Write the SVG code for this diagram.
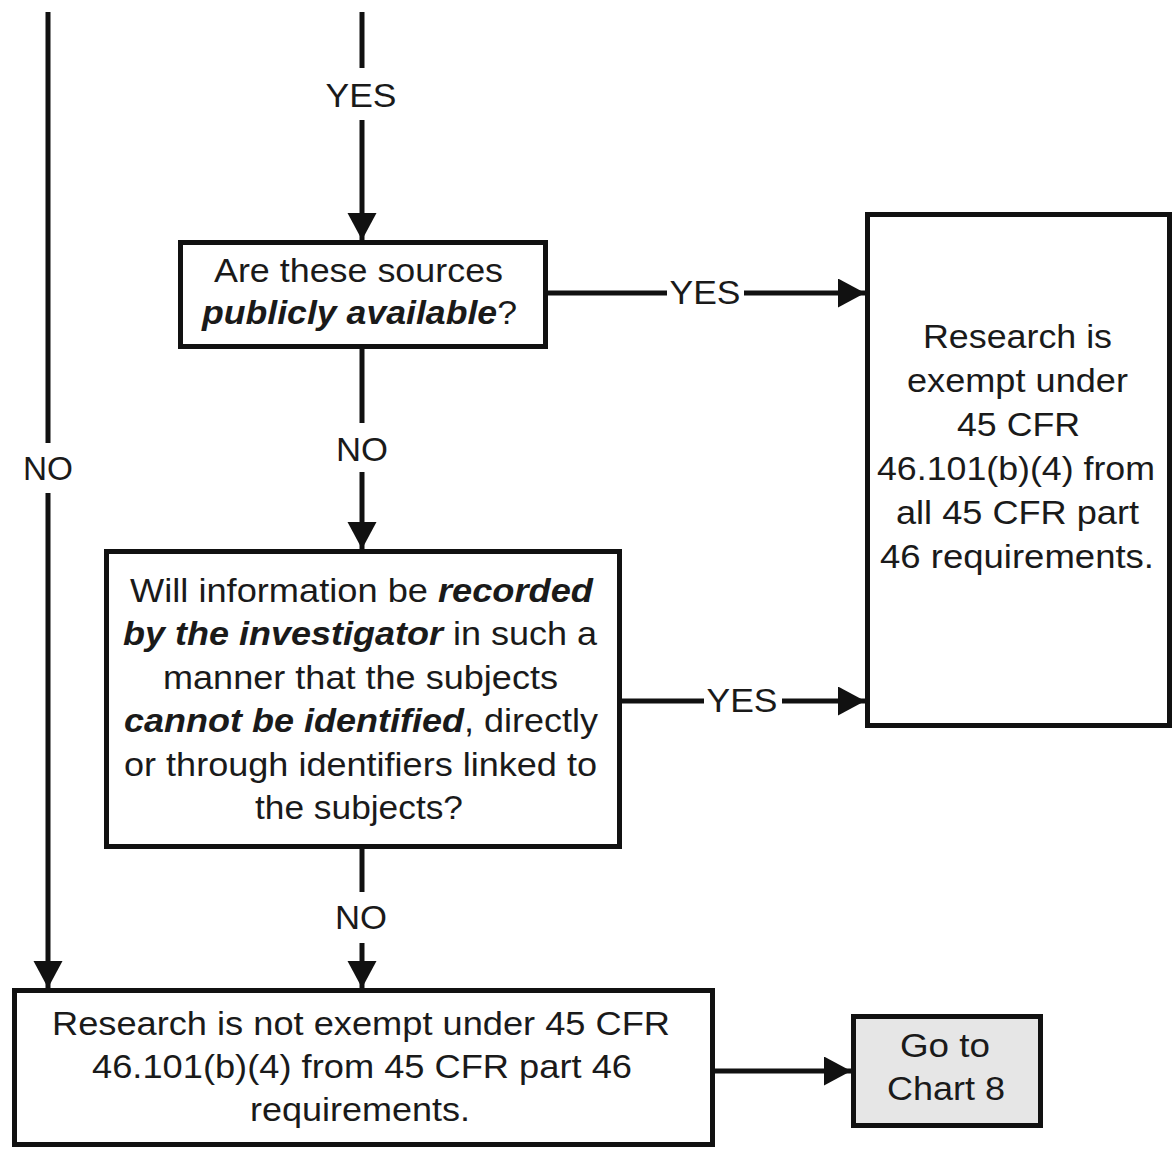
<svg xmlns="http://www.w3.org/2000/svg" width="1176" height="1150" viewBox="0 0 1176 1150">
<style>
.box{fill:#fff;stroke:#111;stroke-width:5}
.grey{fill:#e6e6e6}
.ln{fill:none;stroke:#111;stroke-width:5}
.t{font-family:"Liberation Sans",Arial,sans-serif;font-size:33px;fill:#1a1a1a}
.lb{font-family:"Liberation Sans",Arial,sans-serif;font-size:34px;fill:#1a1a1a;text-anchor:middle}
.bi{font-weight:bold;font-style:italic}
</style>
<defs>
<marker id="ah" markerUnits="userSpaceOnUse" markerWidth="28" markerHeight="30" refX="27" refY="14.5" orient="auto">
<path d="M0,0 L27,14.5 L0,29 z" fill="#111"/>
</marker>
</defs>
<rect width="1176" height="1150" fill="#fff"/>
<g id="connectors">
<line class="ln" x1="48" y1="12" x2="48" y2="443"/>
<line class="ln" x1="48" y1="493" x2="48" y2="988" marker-end="url(#ah)"/>
<text class="lb" x="48" y="480" textLength="50" lengthAdjust="spacingAndGlyphs">NO</text>
<line class="ln" x1="362" y1="12" x2="362" y2="68"/>
<line class="ln" x1="362" y1="120" x2="362" y2="240" marker-end="url(#ah)"/>
<text class="lb" x="361" y="107" textLength="71" lengthAdjust="spacingAndGlyphs">YES</text>
<line class="ln" x1="362" y1="348" x2="362" y2="423"/>
<line class="ln" x1="362" y1="472" x2="362" y2="549" marker-end="url(#ah)"/>
<text class="lb" x="362" y="461" textLength="52" lengthAdjust="spacingAndGlyphs">NO</text>
<line class="ln" x1="548" y1="293" x2="667" y2="293"/>
<line class="ln" x1="744" y1="293" x2="865" y2="293" marker-end="url(#ah)"/>
<text class="lb" x="705" y="304" textLength="71" lengthAdjust="spacingAndGlyphs">YES</text>
<line class="ln" x1="622" y1="701" x2="704" y2="701"/>
<line class="ln" x1="782" y1="701" x2="865" y2="701" marker-end="url(#ah)"/>
<text class="lb" x="742" y="712" textLength="71" lengthAdjust="spacingAndGlyphs">YES</text>
<line class="ln" x1="362" y1="849" x2="362" y2="892"/>
<line class="ln" x1="362" y1="943" x2="362" y2="988" marker-end="url(#ah)"/>
<text class="lb" x="361" y="929" textLength="52" lengthAdjust="spacingAndGlyphs">NO</text>
<line class="ln" x1="715" y1="1071" x2="851" y2="1071" marker-end="url(#ah)"/>
</g>
<g id="q1">
<rect class="box" x="180.5" y="242.5" width="365" height="104"/>
<text class="t" x="214" y="282" textLength="289" lengthAdjust="spacingAndGlyphs">Are these sources</text>
<text class="t" x="202" y="324" textLength="315" lengthAdjust="spacingAndGlyphs"><tspan class="bi">publicly available</tspan>?</text>
</g>
<g id="q2">
<rect class="box" x="106.5" y="551.5" width="513" height="295"/>
<text class="t" x="130" y="602" textLength="463" lengthAdjust="spacingAndGlyphs">Will information be <tspan class="bi">recorded</tspan></text>
<text class="t" x="123" y="645" textLength="474" lengthAdjust="spacingAndGlyphs"><tspan class="bi">by the investigator</tspan> in such a</text>
<text class="t" x="163" y="689" textLength="395" lengthAdjust="spacingAndGlyphs">manner that the subjects</text>
<text class="t" x="124" y="732" textLength="474" lengthAdjust="spacingAndGlyphs"><tspan class="bi">cannot be identified</tspan>, directly</text>
<text class="t" x="124" y="776" textLength="473" lengthAdjust="spacingAndGlyphs">or through identifiers linked to</text>
<text class="t" x="255" y="819" textLength="208" lengthAdjust="spacingAndGlyphs">the subjects?</text>
</g>
<g id="exempt">
<rect class="box" x="867.5" y="214.5" width="302" height="511"/>
<text class="t" x="923" y="348" textLength="189" lengthAdjust="spacingAndGlyphs">Research is</text>
<text class="t" x="907" y="392" textLength="221" lengthAdjust="spacingAndGlyphs">exempt under</text>
<text class="t" x="957" y="436" textLength="123" lengthAdjust="spacingAndGlyphs">45 CFR</text>
<text class="t" x="877" y="480" textLength="278" lengthAdjust="spacingAndGlyphs">46.101(b)(4) from</text>
<text class="t" x="896" y="524" textLength="243" lengthAdjust="spacingAndGlyphs">all 45 CFR part</text>
<text class="t" x="880" y="568" textLength="274" lengthAdjust="spacingAndGlyphs">46 requirements.</text>
</g>
<g id="notexempt">
<rect class="box" x="14.5" y="990.5" width="698" height="154"/>
<text class="t" x="52" y="1035" textLength="618" lengthAdjust="spacingAndGlyphs">Research is not exempt under 45 CFR</text>
<text class="t" x="92" y="1078" textLength="540" lengthAdjust="spacingAndGlyphs">46.101(b)(4) from 45 CFR part 46</text>
<text class="t" x="250" y="1121" textLength="220" lengthAdjust="spacingAndGlyphs">requirements.</text>
</g>
<g id="chart8">
<rect class="box grey" x="853.5" y="1016.5" width="187" height="109"/>
<text class="t" x="900" y="1057" textLength="90" lengthAdjust="spacingAndGlyphs">Go to</text>
<text class="t" x="887" y="1100" textLength="118" lengthAdjust="spacingAndGlyphs">Chart 8</text>
</g>
</svg>
